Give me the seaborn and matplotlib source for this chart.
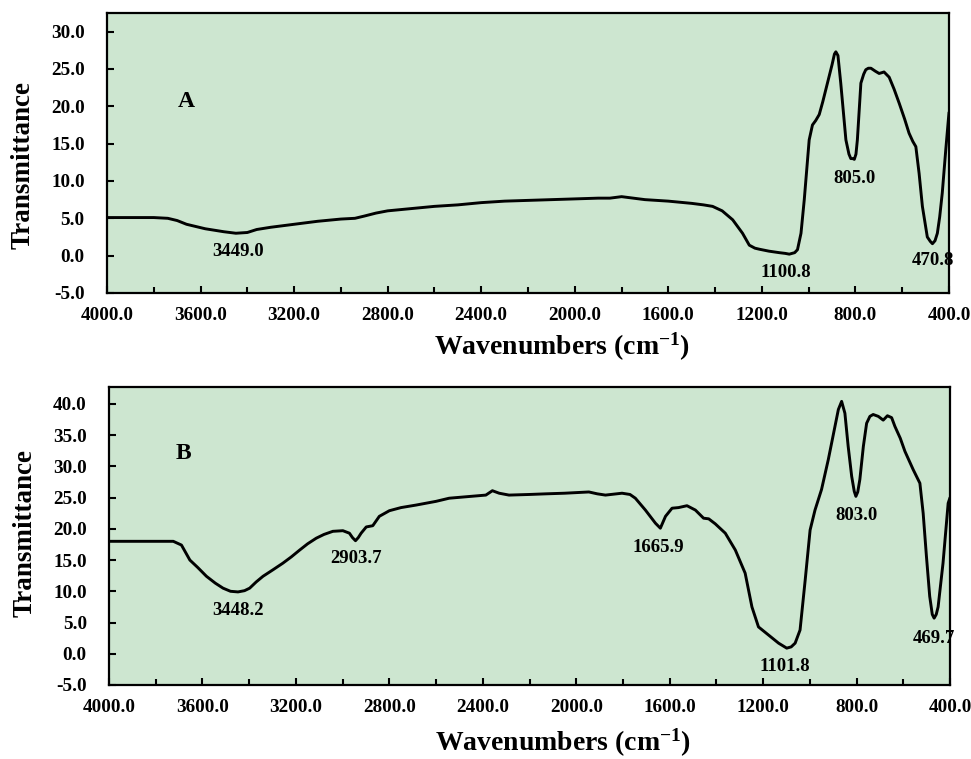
import numpy as np
import pandas as pd
import matplotlib
matplotlib.use("Agg")
import matplotlib.pyplot as plt
from matplotlib.ticker import MultipleLocator, FormatStrFormatter
import seaborn as sns

# ---- data ----
wn_a = [4000, 3900, 3800, 3740, 3700, 3660, 3620, 3580, 3540, 3500, 3449, 3400, 3360, 3300, 3200,
        3100, 3000, 2940, 2900, 2850, 2800, 2700, 2600, 2500, 2400, 2300, 2200, 2100, 2000, 1900,
        1850, 1800, 1750, 1700, 1600, 1500, 1450, 1411, 1370, 1325, 1283, 1254, 1230, 1211, 1170,
        1126, 1100, 1083, 1060, 1048, 1033, 1019, 998, 984, 970, 955, 940, 920, 900, 890, 884,
        875, 863, 841, 828, 820, 812, 805, 798, 792, 777, 765, 756, 745, 734, 715, 699, 688, 678,
        656, 635, 613, 590, 571, 555, 542, 528, 514, 493, 480, 471, 460, 450, 440, 429, 414, 403, 400]
t_a = [5.1, 5.1, 5.1, 5.0, 4.7, 4.2, 3.9, 3.6, 3.4, 3.2, 3.0, 3.1, 3.5, 3.8, 4.2,
       4.6, 4.9, 5.0, 5.3, 5.7, 6.0, 6.3, 6.6, 6.8, 7.1, 7.3, 7.4, 7.5, 7.6, 7.7,
       7.7, 7.9, 7.7, 7.5, 7.3, 7.0, 6.8, 6.6, 6.0, 4.8, 3.0, 1.4, 1.0, 0.86, 0.6,
       0.4, 0.3, 0.2, 0.4, 0.8, 3.0, 7.5, 15.5, 17.5, 18.1, 18.9, 20.6, 23.1, 25.6, 27.0, 27.3,
       26.8, 23.1, 15.5, 13.6, 13.0, 13.0, 12.9, 13.6, 15.5, 23.1, 24.3, 24.9, 25.1, 25.1, 24.7, 24.4, 24.5, 24.6,
       23.9, 22.3, 20.4, 18.3, 16.4, 15.3, 14.6, 11.0, 6.6, 2.5, 1.9, 1.6, 2.0, 3.0, 5.2, 8.4, 14.2, 18.2, 19.2]

wn_b = [4000, 3900, 3800, 3725, 3690, 3654, 3620, 3583, 3545, 3512, 3480, 3448, 3420, 3398, 3370,
        3341, 3300, 3256, 3220, 3184, 3150, 3113, 3080, 3042, 2999, 2971, 2958, 2945, 2933, 2921,
        2899, 2871, 2843, 2800, 2750, 2686, 2600, 2544, 2450, 2387, 2359, 2330, 2288, 2200, 2131,
        2050, 1946, 1910, 1875, 1804, 1770, 1747, 1704, 1661, 1640, 1618, 1590, 1562, 1526, 1490,
        1455, 1433, 1405, 1362, 1319, 1277, 1248, 1220, 1177, 1134, 1099, 1080, 1063, 1042, 1020,
        999, 978, 950, 921, 878, 864, 850, 836, 821, 810, 803, 795, 786, 771, 757, 743, 729, 707,
        686, 668, 650, 636, 613, 593, 558, 529, 515, 501, 487, 476, 468, 459, 451, 430, 408, 400]
t_b = [18.0, 18.0, 18.0, 18.0, 17.4, 15.0, 13.8, 12.4, 11.3, 10.5, 10.0, 9.9, 10.1, 10.5, 11.5,
       12.4, 13.4, 14.5, 15.5, 16.6, 17.6, 18.5, 19.1, 19.6, 19.7, 19.3, 18.6, 18.1, 18.6, 19.3,
       20.3, 20.5, 22.0, 22.9, 23.4, 23.8, 24.4, 24.9, 25.2, 25.4, 26.1, 25.7, 25.4, 25.5, 25.6,
       25.7, 25.9, 25.6, 25.4, 25.7, 25.5, 24.9, 23.0, 20.9, 20.1, 22.0, 23.3, 23.4, 23.7, 23.0,
       21.7, 21.6, 20.8, 19.3, 16.6, 12.9, 7.5, 4.3, 3.0, 1.7, 0.9, 1.1, 1.7, 3.8, 11.8,
       19.8, 23.0, 26.3, 31.1, 39.1, 40.4, 38.5, 33.2, 28.4, 26.0, 25.2, 25.9, 27.9, 33.2, 36.9, 38.0, 38.3, 38.0,
       37.4, 38.1, 37.8, 36.4, 34.5, 32.4, 29.5, 27.3, 22.5, 15.6, 9.2, 6.3, 5.7, 6.3, 7.5, 14.5, 24.1, 25.0]

peaks_a = ["3449.0", "1100.8", "805.0", "470.8"]
peaks_b = ["3448.2", "2903.7", "1665.9", "1101.8", "803.0", "469.7"]
xticks = [4000, 3600, 3200, 2800, 2400, 2000, 1600, 1200, 800, 400]

df_a = pd.DataFrame({"wn": wn_a, "T": t_a})
df_b = pd.DataFrame({"wn": wn_b, "T": t_b})

sns.set_style("ticks")
plt.rcParams["font.family"] = ["Liberation Serif", "DejaVu Serif"]
plt.rcParams["font.weight"] = "bold"
plt.rcParams["text.color"] = "black"
plt.rcParams["axes.labelcolor"] = "black"
plt.rcParams["xtick.color"] = "black"
plt.rcParams["ytick.color"] = "black"
plt.rcParams["mathtext.fontset"] = "custom"
plt.rcParams["mathtext.rm"] = "Liberation Serif:bold"
plt.rcParams["mathtext.it"] = "Liberation Serif:bold"
plt.rcParams["mathtext.bf"] = "Liberation Serif:bold"

BG = "#cde6d0"
fig = plt.figure(figsize=(9.71, 7.59), dpi=100)
ax1 = fig.add_axes([0.1102, 0.6140, 0.8672, 0.3689])
ax2 = fig.add_axes([0.1123, 0.0975, 0.8661, 0.3926])

sns.lineplot(data=df_a, x="wn", y="T", ax=ax1, color="black", lw=2.1, sort=False, estimator=None)
sns.lineplot(data=df_b, x="wn", y="T", ax=ax2, color="black", lw=2.1, sort=False, estimator=None)

def style(ax, ylim, ylab_y):
    ax.set_facecolor(BG)
    ax.set_xlim(4000, 400)
    ax.set_ylim(*ylim)
    ax.set_xticks(xticks)
    ax.xaxis.set_major_formatter(FormatStrFormatter("%.1f"))
    ax.xaxis.set_minor_locator(MultipleLocator(200))
    ax.yaxis.set_major_locator(MultipleLocator(5))
    ax.yaxis.set_major_formatter(FormatStrFormatter("%.1f"))
    ax.tick_params(axis="both", which="both", direction="in", width=1.5, labelsize=13.8,
                   color="black", labelcolor="black")
    ax.tick_params(axis="x", which="major", length=5, pad=10)
    ax.tick_params(axis="x", which="minor", length=4)
    ax.tick_params(axis="y", which="major", length=5, pad=16)
    for lab in ax.get_xticklabels() + ax.get_yticklabels():
        lab.set_fontweight("bold")
    for s in ax.spines.values():
        s.set_visible(True)
        s.set_linewidth(1.6)
        s.set_color("black")
    ax.set_xlabel(r"Wavenumbers (cm$^{-1}$)", fontsize=20, fontweight="bold", color="black")
    ax.xaxis.label.set_va("baseline")
    ax.set_ylabel("Transmittance", fontsize=19.5, fontweight="bold", color="black")
    ax.xaxis.set_label_coords(0.54, -0.221)
    ax.yaxis.set_label_coords(-0.085, ylab_y)

style(ax1, (-5, 32.5), 0.457)
style(ax2, (-5, 42.7), 0.51)

fs = 13.5
ax1.text(3659, 20.6, "A", fontsize=17, fontweight="bold", ha="center", va="center", color="black")
ax2.text(3680, 32.0, "B", fontsize=17, fontweight="bold", ha="center", va="center", color="black")

pos_a = [(3441, 0.5), (1100, -2.3), (806, 10.3), (469, -0.6)]
for lab, (x, y) in zip(peaks_a, pos_a):
    ax1.text(x, y, lab, fontsize=fs, fontweight="bold", ha="center", va="center", color="black")
pos_b = [(3449, 6.9), (2941, 15.2), (1647, 17.0), (1109, -2.1), (802, 22.1), (469, 2.5)]
for lab, (x, y) in zip(peaks_b, pos_b):
    ax2.text(x, y, lab, fontsize=fs, fontweight="bold", ha="center", va="center", color="black")

fig.savefig("out.png", dpi=100, facecolor="white")
